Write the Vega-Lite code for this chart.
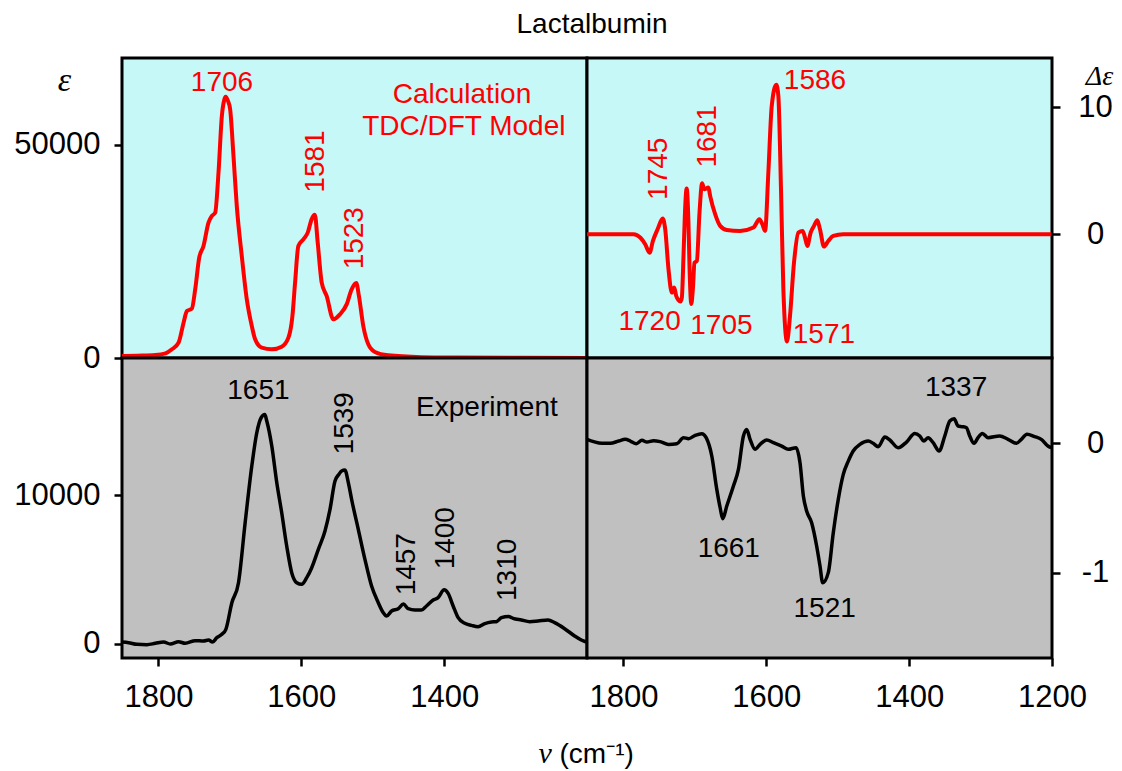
{
  "$schema": "https://vega.github.io/schema/vega-lite/v6.json",
  "padding": {"left": 12, "top": 10, "right": 5, "bottom": 5},
  "title": {"text": "Lactalbumin", "fontSize": 28, "font": "Liberation Sans", "fontWeight": "normal", "color": "#000000", "anchor": "middle", "frame": "group", "dx": 470, "offset": 18},
  "columns": 2,
  "spacing": 0,
  "bounds": "flush",
  "align": "all",
  "datasets": {
    "calcIR": [
      {"nu": 1851, "val": 450}, {"nu": 1830, "val": 550}, {"nu": 1804.4, "val": 700}, {"nu": 1790, "val": 1100},
      {"nu": 1781.1, "val": 2040}, {"nu": 1771.8, "val": 3600}, {"nu": 1764.8, "val": 8290}, {"nu": 1760.1, "val": 11030},
      {"nu": 1753.2, "val": 11580}, {"nu": 1748.5, "val": 16120}, {"nu": 1742.9, "val": 23550}, {"nu": 1736.9, "val": 26290},
      {"nu": 1729.9, "val": 31760}, {"nu": 1725.2, "val": 33330}, {"nu": 1720.5, "val": 34110}, {"nu": 1715.9, "val": 43500},
      {"nu": 1711.2, "val": 56800}, {"nu": 1708, "val": 60500}, {"nu": 1706, "val": 61300}, {"nu": 1702.8, "val": 60400},
      {"nu": 1699.6, "val": 58360}, {"nu": 1694.9, "val": 47400}, {"nu": 1690.3, "val": 35670}, {"nu": 1683.3, "val": 23940},
      {"nu": 1676.3, "val": 13770}, {"nu": 1669.3, "val": 7510}, {"nu": 1664.6, "val": 4380}, {"nu": 1655.3, "val": 2420},
      {"nu": 1641.3, "val": 2040}, {"nu": 1627.4, "val": 2660}, {"nu": 1618.0, "val": 4770}, {"nu": 1612.4, "val": 9860},
      {"nu": 1608.7, "val": 17680}, {"nu": 1604.1, "val": 26290}, {"nu": 1597.1, "val": 27850}, {"nu": 1591.0, "val": 29420},
      {"nu": 1585.4, "val": 32600}, {"nu": 1581, "val": 33600}, {"nu": 1577.0, "val": 27070}, {"nu": 1571.4, "val": 17680},
      {"nu": 1564.5, "val": 14550}, {"nu": 1555.1, "val": 9070}, {"nu": 1545.8, "val": 10250}, {"nu": 1536.5, "val": 12590},
      {"nu": 1529.5, "val": 16120}, {"nu": 1523, "val": 17600}, {"nu": 1519.3, "val": 14550}, {"nu": 1513.2, "val": 7510},
      {"nu": 1506.2, "val": 3210}, {"nu": 1496.9, "val": 1410}, {"nu": 1478.3, "val": 630}, {"nu": 1431.7, "val": 200},
      {"nu": 1385.1, "val": 100}, {"nu": 1292, "val": 40}, {"nu": 1201, "val": 20}
    ],
    "calcIRLabelsH": [
      {"nu": 1711, "val": 64600, "label": "1706"},
      {"nu": 1375, "val": 61650, "label": "Calculation"},
      {"nu": 1372.5, "val": 54220, "label": "TDC/DFT Model"}
    ],
    "calcIRLabelsV": [
      {"nu": 1580, "val": 38800, "label": "1581"},
      {"nu": 1525.3, "val": 20800, "label": "1523"}
    ],
    "calcVCD": [
      {"nu": 1851, "val": 0}, {"nu": 1785.8, "val": 0}, {"nu": 1776.5, "val": -0.26}, {"nu": 1769.5, "val": -0.79},
      {"nu": 1763.4, "val": -1.45}, {"nu": 1758.7, "val": -0.53}, {"nu": 1752.2, "val": 0.39}, {"nu": 1745, "val": 1.24},
      {"nu": 1741.5, "val": 0.39}, {"nu": 1736.9, "val": -2.76}, {"nu": 1732.2, "val": -4.6}, {"nu": 1728.9, "val": -4.2},
      {"nu": 1726.1, "val": -4.87}, {"nu": 1722.9, "val": -5.2}, {"nu": 1720, "val": -5.3}, {"nu": 1718.2, "val": -5.0},
      {"nu": 1715.9, "val": -1.71}, {"nu": 1714, "val": 1.5}, {"nu": 1711.5, "val": 3.6}, {"nu": 1709, "val": 1.0},
      {"nu": 1707.5, "val": -2.5}, {"nu": 1705, "val": -5.5}, {"nu": 1702.8, "val": -4.34}, {"nu": 1700.5, "val": -2.24},
      {"nu": 1697.2, "val": -2.1}, {"nu": 1693.5, "val": 1.71}, {"nu": 1689.8, "val": 4.03}, {"nu": 1687.0, "val": 3.55},
      {"nu": 1681, "val": 3.68}, {"nu": 1678.6, "val": 3.03}, {"nu": 1671.6, "val": 1.58}, {"nu": 1664.6, "val": 0.66},
      {"nu": 1655.3, "val": 0.34}, {"nu": 1636.7, "val": 0.26}, {"nu": 1618.0, "val": 0.53}, {"nu": 1609.6, "val": 1.18},
      {"nu": 1605.5, "val": 0.79}, {"nu": 1601.7, "val": 0.26}, {"nu": 1597.1, "val": 4.87}, {"nu": 1592.4, "val": 10.1},
      {"nu": 1586, "val": 11.8}, {"nu": 1583.1, "val": 10.9}, {"nu": 1579.4, "val": 3.55}, {"nu": 1576.1, "val": -4.34},
      {"nu": 1571, "val": -8.45}, {"nu": 1566.8, "val": -6.45}, {"nu": 1561.2, "val": -2.24}, {"nu": 1555.1, "val": 0.13},
      {"nu": 1549.1, "val": 0.26}, {"nu": 1545.8, "val": -0.26}, {"nu": 1542.6, "val": -0.92}, {"nu": 1537.9, "val": 0.13},
      {"nu": 1533.2, "val": 0.66}, {"nu": 1528.6, "val": 1.1}, {"nu": 1524.8, "val": 0.39}, {"nu": 1519.3, "val": -0.97},
      {"nu": 1513.2, "val": -0.53}, {"nu": 1506.2, "val": -0.13}, {"nu": 1492.2, "val": 0}, {"nu": 1201, "val": 0}
    ],
    "calcVCDLabelsH": [
      {"nu": 1531.8, "val": 12.1, "label": "1586"},
      {"nu": 1763.4, "val": -6.95, "label": "1720"},
      {"nu": 1662.8, "val": -7.2, "label": "1705"},
      {"nu": 1519.3, "val": -7.95, "label": "1571"}
    ],
    "calcVCDLabelsV": [
      {"nu": 1750.1, "val": 2.71, "label": "1745"},
      {"nu": 1681.6, "val": 5.26, "label": "1681"}
    ],
    "expIR": [
      {"nu": 1851.0, "val": 134}, {"nu": 1841.7, "val": 90}, {"nu": 1830.0, "val": -22}, {"nu": 1816.1, "val": -45},
      {"nu": 1804.4, "val": 45}, {"nu": 1792.8, "val": 134}, {"nu": 1783.4, "val": 0}, {"nu": 1771.8, "val": 157},
      {"nu": 1762.5, "val": 45}, {"nu": 1748.5, "val": 224}, {"nu": 1736.9, "val": 201}, {"nu": 1729.9, "val": 268},
      {"nu": 1724.3, "val": 134}, {"nu": 1718.2, "val": 425}, {"nu": 1711.2, "val": 649}, {"nu": 1705.6, "val": 984},
      {"nu": 1697.2, "val": 2774}, {"nu": 1687.9, "val": 4116}, {"nu": 1678.6, "val": 8143}, {"nu": 1669.3, "val": 11946},
      {"nu": 1662.3, "val": 14183}, {"nu": 1656.2, "val": 15190}, {"nu": 1651, "val": 15400}, {"nu": 1648.3, "val": 14966},
      {"nu": 1641.3, "val": 13288}, {"nu": 1634.3, "val": 10827}, {"nu": 1627.4, "val": 8814}, {"nu": 1620.4, "val": 6577},
      {"nu": 1613.4, "val": 4787}, {"nu": 1606.4, "val": 4116}, {"nu": 1599.4, "val": 4004}, {"nu": 1592.4, "val": 4452},
      {"nu": 1585.4, "val": 5123}, {"nu": 1576.1, "val": 6353}, {"nu": 1566.8, "val": 7584}, {"nu": 1559.8, "val": 9037},
      {"nu": 1552.8, "val": 10939}, {"nu": 1547.2, "val": 11400}, {"nu": 1543.5, "val": 11620}, {"nu": 1539, "val": 11680},
      {"nu": 1534, "val": 10800}, {"nu": 1529.5, "val": 9700}, {"nu": 1520.2, "val": 7695}, {"nu": 1510.9, "val": 5682},
      {"nu": 1501.6, "val": 3892}, {"nu": 1492.2, "val": 2774}, {"nu": 1485.2, "val": 2103}, {"nu": 1480.6, "val": 1879},
      {"nu": 1473.6, "val": 2215}, {"nu": 1464.3, "val": 2371}, {"nu": 1457, "val": 2680}, {"nu": 1450.3, "val": 2371},
      {"nu": 1441.0, "val": 2282}, {"nu": 1431.7, "val": 2282}, {"nu": 1424.7, "val": 2550}, {"nu": 1415.4, "val": 2953},
      {"nu": 1408.4, "val": 3109}, {"nu": 1400, "val": 3640}, {"nu": 1394.4, "val": 3400}, {"nu": 1387.4, "val": 2550},
      {"nu": 1380.4, "val": 1767}, {"nu": 1371.1, "val": 1387}, {"nu": 1361.8, "val": 1253}, {"nu": 1352.5, "val": 1163},
      {"nu": 1343.1, "val": 1365}, {"nu": 1333.8, "val": 1476}, {"nu": 1326.8, "val": 1499}, {"nu": 1319.8, "val": 1767},
      {"nu": 1310, "val": 1850}, {"nu": 1303.5, "val": 1722}, {"nu": 1291.9, "val": 1611}, {"nu": 1280.2, "val": 1499},
      {"nu": 1268.6, "val": 1543}, {"nu": 1254.6, "val": 1611}, {"nu": 1245.3, "val": 1432}, {"nu": 1231.3, "val": 1029},
      {"nu": 1217.3, "val": 537}, {"nu": 1208.0, "val": 268}, {"nu": 1201.0, "val": 134}
    ],
    "expIRLabelsH": [
      {"nu": 1660, "val": 16960, "label": "1651"},
      {"nu": 1340.1, "val": 15815, "label": "Experiment"}
    ],
    "expIRLabelsV": [
      {"nu": 1538.8, "val": 12728, "label": "1539"},
      {"nu": 1452.6, "val": 3266, "label": "1457"},
      {"nu": 1397.9, "val": 5011, "label": "1400"},
      {"nu": 1310.1, "val": 2886, "label": "1310"}
    ],
    "expVCD": [
      {"nu": 1851.0, "val": 0.031}, {"nu": 1841.7, "val": 0.013}, {"nu": 1830.0, "val": 0}, {"nu": 1818.4, "val": 0},
      {"nu": 1806.7, "val": 0.018}, {"nu": 1797.4, "val": 0.031}, {"nu": 1790.4, "val": 0.018}, {"nu": 1782.0, "val": -0.003},
      {"nu": 1774.1, "val": 0.023}, {"nu": 1767.1, "val": 0.01}, {"nu": 1757.8, "val": 0.021}, {"nu": 1748.5, "val": 0.013},
      {"nu": 1736.9, "val": -0.008}, {"nu": 1725.2, "val": -0.003}, {"nu": 1715.9, "val": 0.044}, {"nu": 1708.9, "val": 0.036},
      {"nu": 1699.6, "val": 0.062}, {"nu": 1690.3, "val": 0.075}, {"nu": 1684.2, "val": 0.044}, {"nu": 1676.3, "val": -0.098},
      {"nu": 1669.3, "val": -0.356}, {"nu": 1664.6, "val": -0.498}, {"nu": 1661, "val": -0.583}, {"nu": 1655.3, "val": -0.485},
      {"nu": 1646.0, "val": -0.33}, {"nu": 1639.0, "val": -0.201}, {"nu": 1632.0, "val": 0.057}, {"nu": 1627.4, "val": 0.108},
      {"nu": 1622.7, "val": 0.031}, {"nu": 1615.7, "val": -0.046}, {"nu": 1608.7, "val": -0.008}, {"nu": 1599.4, "val": 0.026},
      {"nu": 1590.1, "val": 0.005}, {"nu": 1578.4, "val": -0.021}, {"nu": 1569.1, "val": -0.046}, {"nu": 1558.4, "val": -0.034},
      {"nu": 1552.8, "val": -0.15}, {"nu": 1548.1, "val": -0.407}, {"nu": 1543.5, "val": -0.523}, {"nu": 1536.5, "val": -0.614},
      {"nu": 1529.5, "val": -0.794}, {"nu": 1524.8, "val": -0.949}, {"nu": 1521, "val": -1.078}, {"nu": 1513.2, "val": -1.0},
      {"nu": 1506.2, "val": -0.691}, {"nu": 1499.2, "val": -0.433}, {"nu": 1492.2, "val": -0.24}, {"nu": 1485.2, "val": -0.137},
      {"nu": 1478.3, "val": -0.059}, {"nu": 1468.9, "val": -0.008}, {"nu": 1457.3, "val": 0.018}, {"nu": 1450.3, "val": 0},
      {"nu": 1443.3, "val": -0.026}, {"nu": 1434.0, "val": 0.049}, {"nu": 1427.0, "val": 0.026}, {"nu": 1415.4, "val": -0.034},
      {"nu": 1403.7, "val": 0.01}, {"nu": 1392.1, "val": 0.077}, {"nu": 1385.1, "val": 0.057}, {"nu": 1379.5, "val": 0.018},
      {"nu": 1373.4, "val": 0.044}, {"nu": 1366.4, "val": 0.005}, {"nu": 1358.0, "val": -0.059}, {"nu": 1350.1, "val": 0.057},
      {"nu": 1343.1, "val": 0.173}, {"nu": 1337, "val": 0.19}, {"nu": 1331.5, "val": 0.134}, {"nu": 1325.4, "val": 0.129},
      {"nu": 1319.8, "val": 0.121}, {"nu": 1315.2, "val": 0.057}, {"nu": 1309.1, "val": 0}, {"nu": 1303.5, "val": 0.044},
      {"nu": 1297.5, "val": 0.077}, {"nu": 1289.5, "val": 0.044}, {"nu": 1273.3, "val": 0.057}, {"nu": 1261.6, "val": 0.031},
      {"nu": 1249.9, "val": 0}, {"nu": 1242.9, "val": 0.031}, {"nu": 1235.0, "val": 0.07}, {"nu": 1224.3, "val": 0.052},
      {"nu": 1215.0, "val": 0.031}, {"nu": 1205.7, "val": -0.021}, {"nu": 1201.0, "val": -0.034}
    ],
    "expVCDLabelsH": [
      {"nu": 1652.5, "val": -0.815, "label": "1661"},
      {"nu": 1518.3, "val": -1.284, "label": "1521"},
      {"nu": 1334.3, "val": 0.43, "label": "1337"}
    ]
  },
  "concat": [
    {
      "width": 465, "height": 300,
      "view": {"fill": "#c6f8f7", "stroke": "#000000", "strokeWidth": 3},
      "encoding": {
        "x": {"field": "nu", "type": "quantitative", "scale": {"domain": [1200, 1851], "reverse": true, "nice": false, "zero": false}, "axis": null},
        "y": {"field": "val", "type": "quantitative", "scale": {"domain": [0, 70400], "nice": false, "zero": false},
              "axis": {"orient": "left", "values": [0, 50000], "labelExpr": "'' + datum.value", "title": "ε",
                       "titleFont": "Liberation Serif", "titleFontStyle": "italic", "titleFontSize": 34, "titleAngle": 0,
                       "titleAlign": "center", "titleBaseline": "middle", "titleX": -58, "titleY": 22}}
      },
      "layer": [
        {"data": {"name": "calcIR"}, "mark": {"type": "line", "color": "#ff0000", "strokeWidth": 4, "interpolate": "monotone", "clip": true}, "encoding": {}},
        {"data": {"name": "calcIRLabelsH"}, "mark": {"type": "text", "color": "#ff0000", "align": "center", "baseline": "middle"}, "encoding": {"text": {"field": "label", "type": "nominal"}}},
        {"data": {"name": "calcIRLabelsV"}, "mark": {"type": "text", "color": "#ff0000", "angle": 270, "align": "left", "baseline": "middle"}, "encoding": {"text": {"field": "label", "type": "nominal"}}}
      ]
    },
    {
      "width": 465, "height": 300,
      "view": {"fill": "#c6f8f7", "stroke": "#000000", "strokeWidth": 3},
      "encoding": {
        "x": {"field": "nu", "type": "quantitative", "scale": {"domain": [1200, 1851], "reverse": true, "nice": false, "zero": false}, "axis": null},
        "y": {"field": "val", "type": "quantitative", "scale": {"domain": [-9.76, 13.9], "nice": false, "zero": false},
              "axis": {"orient": "right", "values": [0, 10], "labelExpr": "'' + datum.value", "title": "Δε",
                       "titleFont": "Liberation Serif", "titleFontStyle": "italic", "titleFontSize": 28, "titleAngle": 0,
                       "titleAlign": "center", "titleBaseline": "middle", "titleX": 47, "titleY": 18}}
      },
      "layer": [
        {"data": {"name": "calcVCD"}, "mark": {"type": "line", "color": "#ff0000", "strokeWidth": 4, "interpolate": "monotone", "clip": true}, "encoding": {}},
        {"data": {"name": "calcVCDLabelsH"}, "mark": {"type": "text", "color": "#ff0000", "align": "center", "baseline": "middle"}, "encoding": {"text": {"field": "label", "type": "nominal"}}},
        {"data": {"name": "calcVCDLabelsV"}, "mark": {"type": "text", "color": "#ff0000", "angle": 270, "align": "left", "baseline": "middle"}, "encoding": {"text": {"field": "label", "type": "nominal"}}}
      ]
    },
    {
      "width": 465, "height": 300,
      "view": {"fill": "#c0c0c0", "stroke": "#000000", "strokeWidth": 3},
      "encoding": {
        "x": {"field": "nu", "type": "quantitative", "scale": {"domain": [1200, 1851], "reverse": true, "nice": false, "zero": false},
              "axis": {"orient": "bottom", "values": [1800, 1600, 1400], "labelExpr": "'' + datum.value", "title": "(cm⁻¹)",
                       "titleFont": "Liberation Sans", "titleFontSize": 28, "titleAlign": "left", "titleBaseline": "alphabetic",
                       "titleX": 437, "titleY": 104}},
        "y": {"field": "val", "type": "quantitative", "scale": {"domain": [-940, 19200], "nice": false, "zero": false},
              "axis": {"orient": "left", "values": [0, 10000], "labelExpr": "'' + datum.value", "title": null}}
      },
      "layer": [
        {"data": {"name": "expIR"}, "mark": {"type": "line", "color": "#000000", "strokeWidth": 3.5, "interpolate": "monotone", "clip": true}, "encoding": {}},
        {"data": {"name": "expIRLabelsH"}, "mark": {"type": "text", "color": "#000000", "align": "center", "baseline": "middle"}, "encoding": {"text": {"field": "label", "type": "nominal"}}},
        {"data": {"name": "expIRLabelsV"}, "mark": {"type": "text", "color": "#000000", "angle": 270, "align": "left", "baseline": "middle"}, "encoding": {"text": {"field": "label", "type": "nominal"}}}
      ]
    },
    {
      "width": 465, "height": 300,
      "view": {"fill": "#c0c0c0", "stroke": "#000000", "strokeWidth": 3},
      "encoding": {
        "x": {"field": "nu", "type": "quantitative", "scale": {"domain": [1200, 1851], "reverse": true, "nice": false, "zero": false},
              "axis": {"orient": "bottom", "values": [1800, 1600, 1400, 1200], "labelExpr": "'' + datum.value", "title": "ν",
                       "titleFont": "Liberation Serif", "titleFontStyle": "italic", "titleFontSize": 30, "titleAlign": "left",
                       "titleBaseline": "alphabetic", "titleX": -49, "titleY": 104}},
        "y": {"field": "val", "type": "quantitative", "scale": {"domain": [-1.66, 0.66], "nice": false, "zero": false},
              "axis": {"orient": "right", "values": [-1, 0], "labelExpr": "'' + datum.value", "title": null}}
      },
      "layer": [
        {"data": {"name": "expVCD"}, "mark": {"type": "line", "color": "#000000", "strokeWidth": 3.5, "interpolate": "monotone", "clip": true}, "encoding": {}},
        {"data": {"name": "expVCDLabelsH"}, "mark": {"type": "text", "color": "#000000", "align": "center", "baseline": "middle"}, "encoding": {"text": {"field": "label", "type": "nominal"}}}
      ]
    }
  ],
  "config": {
    "font": "Liberation Sans",
    "view": {"stroke": "#000000", "strokeWidth": 3},
    "axis": {"domain": false, "grid": false, "labelFont": "Liberation Sans", "labelFontSize": 31, "labelColor": "#000000",
             "tickColor": "#000000", "tickWidth": 2.5, "tickSize": 8, "labelFlush": false, "labelOverlap": false,
             "titleFontWeight": "normal", "titleColor": "#000000"},
    "axisLeft": {"labelPadding": 14},
    "axisRight": {"labelPadding": 35, "labelAlign": "center"},
    "axisBottom": {"labelPadding": 16},
    "text": {"font": "Liberation Sans", "fontSize": 28}
  }
}
